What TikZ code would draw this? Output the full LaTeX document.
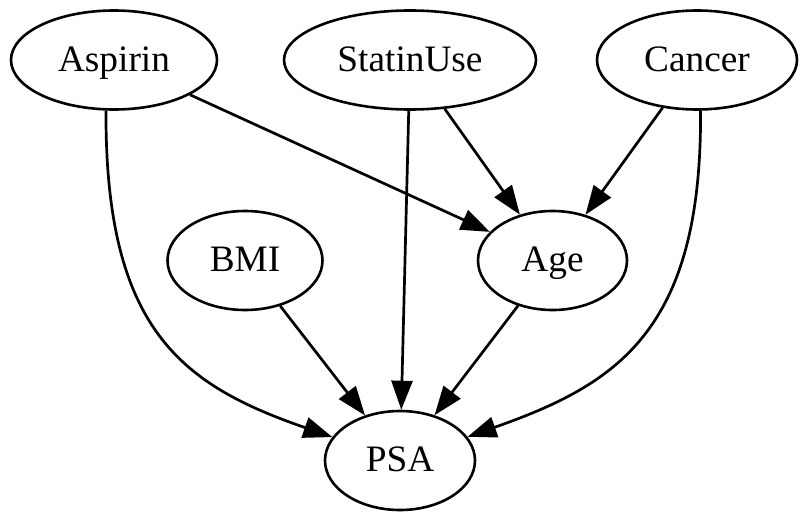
\documentclass[tikz,border=0pt]{standalone}
\usepackage{fontspec}
\setmainfont{Liberation Serif}
\usetikzlibrary{shapes.geometric,arrows.meta}
\begin{document}
\begin{tikzpicture}[x=1pt,y=-1pt,
  vnode/.style={draw,ellipse,line width=2.6pt,inner sep=0pt,minimum height=99pt,
    font=\fontsize{37.3}{40}\selectfont,text height=27pt,text depth=5pt},
  edge/.style={line width=2.7pt,-{Triangle[length=29pt,width=21pt]}}]
\useasboundingbox (0,0) rectangle (808,522);
\node[vnode,minimum width=206pt] (Aspirin) at (114,60) {Aspirin};
\node[vnode,minimum width=252pt] (StatinUse) at (410,60) {StatinUse};
\node[vnode,minimum width=200pt] (Cancer) at (697,60) {Cancer};
\node[vnode,minimum width=155pt] (BMI) at (245,260.5) {BMI};
\node[vnode,minimum width=149pt] (Age) at (552.5,260.5) {Age};
\node[vnode,minimum width=150pt] (PSA) at (400,460.5) {PSA};
\draw[edge] (Aspirin) -- (Age);
\draw[edge] (StatinUse) -- (Age);
\draw[edge] (Cancer) -- (Age);
\draw[edge] (StatinUse) -- (PSA);
\draw[edge] (BMI) -- (PSA);
\draw[edge] (Age) -- (PSA);
\draw[edge] (Aspirin.-99) .. controls (105,330) and (182,385) .. (PSA);
\draw[edge] (Cancer.-86) .. controls (702,330) and (618,384) .. (PSA);
\end{tikzpicture}
\end{document}
